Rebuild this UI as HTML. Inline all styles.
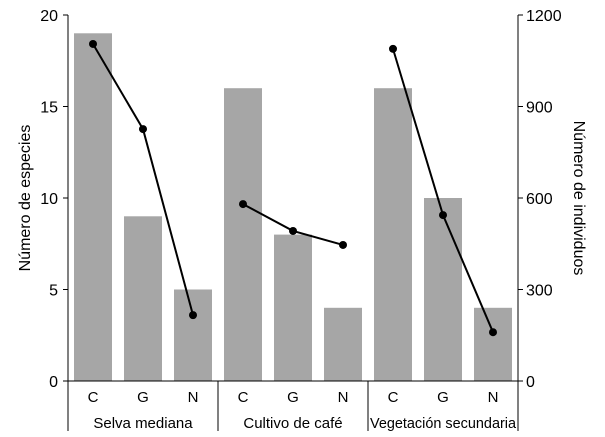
<!DOCTYPE html>
<html><head><meta charset="utf-8"><style>
body{margin:0;background:#fff;}
svg{display:block;font-family:"Liberation Sans",Arial,sans-serif;}
</style></head><body>
<svg id="c" width="605" height="437"></svg>
<script>
const categories=["C","G","N","C","G","N","C","G","N"];
const groups=["Selva mediana","Cultivo de café","Vegetación secundaria"];
const species=[19,9,5,16,8,4,16,10,4];
const individuals=[1105,826,216,580,492,446,1089,544,160];
const leftTicks=[0,5,10,15,20];
const rightTicks=[0,300,600,900,1200];
const NS="http://www.w3.org/2000/svg";
const svg=document.getElementById('c');
const X0=68,X1=518,Y0=381,Y1=15;
const bw=(X1-X0)/categories.length;
const yL=v=>Y0-(v/20)*(Y0-Y1);
const yR=v=>Y0-(v/1200)*(Y0-Y1);
const xc=i=>X0+bw*(i+0.5);
function el(t,a,txt){const e=document.createElementNS(NS,t);for(const k in a)e.setAttribute(k,a[k]);if(txt!=null)e.textContent=txt;svg.appendChild(e);return e;}
species.forEach((v,i)=>{
 const r=el('rect',{x:xc(i)-19,y:yL(v),width:38,height:Y0-yL(v),fill:'#a6a6a6'});
 
 
});
let a=el('line',{x1:X0,y1:Y1,x2:X0,y2:Y0,stroke:'#000'});

a=el('line',{x1:X1,y1:Y1,x2:X1,y2:Y0,stroke:'#000'});

a=el('line',{x1:X0-5,y1:Y0,x2:X1+5,y2:Y0,stroke:'#000'});

leftTicks.forEach(v=>{
 el('line',{x1:X0-5,y1:yL(v),x2:X0,y2:yL(v),stroke:'#000'});
 const t=el('text',{x:X0-10,y:yL(v)+6,'text-anchor':'end','font-size':16},v);
 
});
rightTicks.forEach(v=>{
 el('line',{x1:X1,y1:yR(v),x2:X1+5,y2:yR(v),stroke:'#000'});
 const t=el('text',{x:X1+8,y:yR(v)+6,'font-size':16},v);
 
});
categories.forEach((c,i)=>{
 const t=el('text',{x:xc(i),y:402,'text-anchor':'middle','font-size':15},c);
 
});
for(let g=0;g<=3;g++){el('line',{x1:X0+g*150,y1:Y0,x2:X0+g*150,y2:431,stroke:'#000'});}
groups.forEach((g,i)=>{
 const attrs={x:X0+150*i+75,y:428,'text-anchor':'middle','font-size':15};
 if(i===2){attrs.textLength=146;attrs.lengthAdjust='spacingAndGlyphs';}
 const t=el('text',attrs,g);
 
});
for(let g=0;g<3;g++){
 const pts=[0,1,2].map(k=>xc(g*3+k)+','+yR(individuals[g*3+k])).join(' ');
 const p=el('polyline',{points:pts,fill:'none',stroke:'#000','stroke-width':2});
 
}
individuals.forEach((v,i)=>{
 const c=el('circle',{cx:xc(i),cy:yR(v),r:4,fill:'#000'});
 
});
let t=el('text',{x:0,y:0,'text-anchor':'middle','font-size':16,transform:'translate(30,198) rotate(-90)'},'Número de especies');

t=el('text',{x:0,y:0,'text-anchor':'middle','font-size':16,transform:'translate(574,198) rotate(90)'},'Número de individuos');

</script>
</body></html>
